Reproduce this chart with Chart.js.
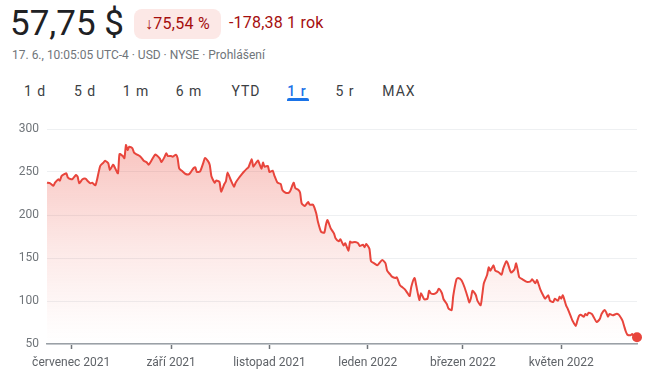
<!DOCTYPE html>
<html lang="cs">
<head>
<meta charset="utf-8">
<script src="https://cdn.jsdelivr.net/npm/chart.js@4/dist/chart.umd.min.js"></script>
<style>
  html, body { margin: 0; padding: 0; background: #fff; }
  body { width: 650px; height: 380px; position: relative; overflow: hidden; font-family: Roboto, Arial, sans-serif; }
  .abs { position: absolute; white-space: nowrap; }
  #price { left: 10px; top: 4px; font-size: 35px; line-height: 40px; color: #202124; }
  #badge { left: 134px; top: 9px; width: 87px; height: 30px; line-height: 30px; border-radius: 8px;
           background: #fce8e6; color: #a50e0e; font-size: 16px; text-align: center; letter-spacing: 0.3px; }
  #change { left: 229px; top: 13px; font-size: 16px; line-height: 20px; color: #a50e0e; letter-spacing: 0.2px; }
  #meta { left: 12px; top: 47px; font-size: 12px; line-height: 16px; color: #70757a; }
  .tab { top: 82px; font-size: 14px; line-height: 18px; font-weight: 400; color: #3c4043; transform: translateX(-50%); letter-spacing: 1px; }
  .tab.on { color: #1a73e8; font-weight: 500; }
  #underline { left: 287px; top: 98px; width: 22px; height: 3px; border-radius: 2px 2px 0 0; background: #1a73e8; }
  #wrap { position: absolute; left: 0; top: 110px; width: 650px; height: 270px; }
</style>
</head>
<body>
<div id="price" class="abs">57,75 $</div>
<div id="badge" class="abs">↓75,54 %</div>
<div id="change" class="abs">-178,38 1 rok</div>
<div id="meta" class="abs">17. 6., 10:05:05 UTC-4 · USD · NYSE · Prohlášení</div>
<div id="tabs"></div>
<div id="underline" class="abs"></div>
<div id="wrap"><canvas id="chart" width="650" height="270"></canvas></div>
<script>
// range buttons (label, centre x)
const tabLabels = ['1 d', '5 d', '1 m', '6 m', 'YTD', '1 r', '5 r', 'MAX'];
const tabCentres = [35, 85, 136, 189, 246, 297, 345, 399];

// days counted from 16. 6. 2021, closing prices
const days = [
  0, 2, 4, 5, 7, 8, 9, 11, 12, 13, 15, 16, 18, 19, 20, 22, 24, 25, 27, 28,
  30, 31, 33, 35, 36, 38, 39, 41, 42, 44, 45, 47, 48, 49, 50, 51, 53, 54, 56, 58,
  60, 62, 63, 65, 67, 68, 70, 71, 73, 74, 75, 77, 78, 80, 81, 82, 84, 86, 88, 89,
  91, 92, 93, 95, 97, 98, 100, 101, 102, 104, 105, 107, 108, 110, 111, 112, 114, 116, 117, 119,
  121, 122, 124, 125, 127, 128, 130, 131, 133, 134, 135, 137, 138, 140, 141, 143, 145, 146, 148, 150,
  151, 153, 154, 156, 157, 158, 160, 161, 162, 163, 165, 167, 168, 170, 172, 173, 174, 176, 178, 179,
  181, 182, 184, 185, 187, 188, 189, 191, 193, 194, 196, 197, 198, 200, 201, 203, 205, 206, 208, 210,
  211, 213, 214, 216, 217, 219, 220, 222, 224, 225, 226, 228, 229, 231, 232, 234, 236, 237, 238, 240,
  242, 243, 245, 246, 248, 249, 251, 252, 254, 255, 257, 259, 261, 262, 263, 264, 266, 267, 269, 270,
  271, 273, 274, 275, 277, 278, 279, 280, 282, 283, 285, 286, 287, 288, 290, 291, 292, 293, 295, 297,
  298, 300, 301, 303, 304, 306, 308, 309, 311, 312, 314, 315, 317, 318, 319, 320, 322, 323, 324, 325,
  326, 328, 329, 330, 331, 333, 334, 335, 336, 338, 339, 341, 343, 344, 346, 347, 348, 349, 351, 353,
  354, 355, 357, 358, 359, 360, 362, 363, 364, 366
];
const prices = [
  237.6, 236.8, 234, 237.6, 241.5, 240, 245.3, 247.7, 248.5, 243.4, 241.5, 242.2, 246.5, 244.6, 236.8, 241.5, 242.2, 240, 236.8, 237.6,
  234.5, 240.7, 257, 260.9, 263.2, 260.1, 252.3, 258.5, 255.5, 248.5, 270.9, 268.6, 266, 281.4, 275.6, 279.5, 277.5, 272.5, 270.1, 267.8,
  263.2, 260.9, 258.5, 264, 270.1, 269.4, 265.5, 261.6, 267.8, 271.7, 268.6, 268.6, 267.8, 270.1, 266.3, 254.3, 250.8, 247.7, 247.3, 249.3,
  254.7, 255.5, 250, 250.8, 260.9, 266.3, 262.4, 258, 245, 237.6, 240, 238.4, 227.1, 236, 239.2, 249.3, 240.7, 233, 237.6, 243,
  247.7, 250, 253.9, 255.5, 264.8, 256.2, 261.6, 263.2, 253.9, 260.9, 256.2, 257, 250, 251.6, 246.2, 237.6, 236, 229.1, 225.9, 225.9,
  228.3, 237.6, 231.4, 229.1, 226, 213.5, 210.5, 212.8, 215.1, 212, 212, 202, 192.7, 180.6, 179.5, 188.4, 194.2, 184.5, 178.7, 172.9,
  169.4, 171.7, 164.7, 167.1, 158.5, 169, 167.9, 168.6, 167.1, 164, 165.5, 162.4, 166.3, 160.8, 146.2, 143.8, 141.5, 143.8, 147.7, 143.8,
  135.3, 130.6, 128.3, 126.7, 127.5, 118.2, 116.7, 113.6, 108.1, 105.8, 116.7, 126.7, 118.6, 101.2, 109, 102, 102.7, 112, 109, 108.1,
  110.5, 114.3, 109, 102, 96.5, 91.5, 89.5, 105.8, 125.2, 126.7, 124.4, 116, 104.3, 98.1, 103.5, 112, 107, 100.4, 95, 107,
  120.6, 130.2, 139.2, 135.3, 141.5, 135.3, 134.5, 133.7, 130.6, 137.6, 146.2, 143, 136.9, 133, 136.9, 143.8, 136, 127.5, 125.2, 122.9,
  122.1, 122.9, 125.2, 120.6, 124.4, 113.6, 105.8, 102.7, 106.6, 100.4, 98.8, 102.7, 100.4, 105, 102.7, 106.6, 95, 91.1, 86.4, 81.8,
  77.1, 71, 77.1, 82.6, 84.1, 81.8, 84.9, 83.4, 86.4, 84.9, 81.8, 75.6, 79.4, 84.9, 89.5, 86.4, 81.8, 84.9, 83.4, 84.9,
  84.9, 83.4, 77.1, 71, 64.8, 60.9, 60.1, 61.6, 59.3, 57.75
];

// x axis: first day of every second month
const tickDays = [15, 77, 138, 199, 258, 319];
const tickLabels = ['červenec 2021', 'září 2021', 'listopad 2021', 'leden 2022', 'březen 2022', 'květen 2022'];
const yMin = 50;
const yMax = 300;
const yStep = 50;

const RED = '#e8453c';

const tabs = document.getElementById('tabs');
tabLabels.forEach((t, i) => {
  const el = document.createElement('div');
  el.className = 'abs tab' + (t === '1 r' ? ' on' : '');
  el.style.left = tabCentres[i] + 'px';
  el.textContent = t;
  tabs.appendChild(el);
});

function fillGradient(context) {
  const { ctx, chartArea } = context.chart;
  if (!chartArea) return 'rgba(232,69,60,0.2)';
  const g = ctx.createLinearGradient(0, chartArea.top, 0, chartArea.bottom);
  g.addColorStop(0, 'rgba(234,67,53,0.34)');
  g.addColorStop(0.55, 'rgba(234,67,53,0.12)');
  g.addColorStop(0.9, 'rgba(234,67,53,0.02)');
  g.addColorStop(1, 'rgba(234,67,53,0)');
  return g;
}

const points = days.map((d, i) => ({ x: d, y: prices[i] }));
const last = points.length - 1;

new Chart(document.getElementById('chart').getContext('2d'), {
  type: 'line',
  data: {
    datasets: [{
      data: points,
      borderColor: RED,
      borderWidth: 2,
      backgroundColor: fillGradient,
      fill: 'start',
      tension: 0.2,
      clip: false,
      pointRadius: ctx => (ctx.dataIndex === last ? 5 : 0),
      pointBackgroundColor: RED,
      pointBorderWidth: 0
    }]
  },
  options: {
    responsive: false,
    devicePixelRatio: 1,
    animation: false,
    events: [],
    layout: { padding: { left: 0, right: 13, top: 19, bottom: 0 } },
    plugins: { legend: { display: false }, tooltip: { enabled: false } },
    scales: {
      x: {
        type: 'linear',
        min: 0,
        max: days[days.length - 1],
        afterBuildTicks: scale => { scale.ticks = tickDays.map(v => ({ value: v })); },
        afterFit: scale => { scale.height = 36; },
        ticks: {
          autoSkip: false,
          maxRotation: 0,
          padding: 7,
          color: '#5f6368',
          font: { family: 'Roboto', size: 12 },
          callback: v => tickLabels[tickDays.indexOf(v)]
        },
        grid: { drawOnChartArea: false, drawTicks: true, tickLength: 5, tickWidth: 1.5, color: '#70757a' },
        border: { color: '#9aa0a6', width: 1.5 }
      },
      y: {
        min: yMin,
        max: yMax,
        afterFit: scale => { scale.width = 47; },
        ticks: {
          stepSize: yStep,
          padding: 8,
          color: '#70757a',
          font: { family: 'Roboto', size: 12 }
        },
        grid: { drawTicks: false, color: '#eef0f2' },
        border: { display: false }
      }
    }
  }
});
</script>
</body>
</html>
